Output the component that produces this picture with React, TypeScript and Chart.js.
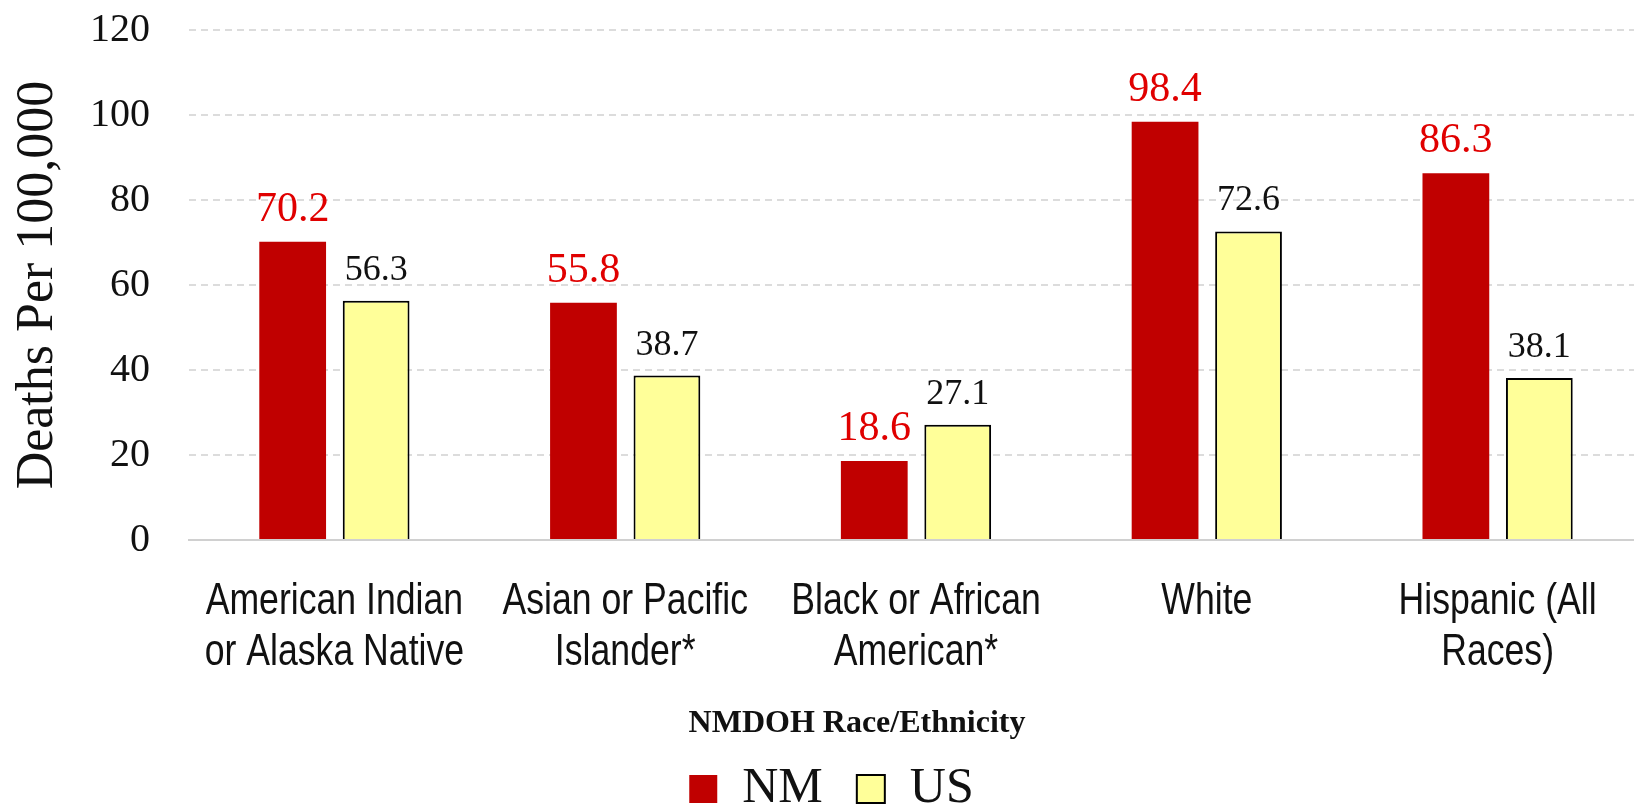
import React, { useEffect, useRef } from "react";
import { Chart, registerables } from "chart.js";

Chart.register(...registerables);

const categories: string[][] = [
  ["American Indian", "or Alaska Native"],
  ["Asian or Pacific", "Islander*"],
  ["Black or African", "American*"],
  ["White"],
  ["Hispanic (All", "Races)"],
];
const nmValues = [70.2, 55.8, 18.6, 98.4, 86.3];
const usValues = [56.3, 38.7, 27.1, 72.6, 38.1];
const seriesNames = ["NM", "US"];
const yTicks = [0, 20, 40, 60, 80, 100, 120];
const yTitle = "Deaths Per 100,000";
const xTitle = "NMDOH Race/Ethnicity";

const SERIF = '"Liberation Serif", "Times New Roman", serif';
const SANS = '"Liberation Sans", Arial, sans-serif';

const CANVAS_W = 1644;
const CANVAS_H = 824;
const PAD_LEFT = 20;

const labelPlugin = {
  id: "barValueLabels",
  afterDatasetsDraw(chart: any) {
    const ctx = chart.ctx;
    ctx.save();
    chart.data.datasets.forEach((ds: any, di: number) => {
      const meta = chart.getDatasetMeta(di);
      ctx.font = di === 0 ? `42px ${SERIF}` : `36px ${SERIF}`;
      ctx.fillStyle = di === 0 ? "#E00000" : "#111111";
      ctx.textAlign = "center";
      ctx.textBaseline = "alphabetic";
      meta.data.forEach((el: any, i: number) => {
        ctx.fillText(ds.data[i].toFixed(1), el.x, el.y - 21);
      });
    });
    ctx.restore();
  },
};

// category labels drawn in a narrow (horizontally condensed) sans face
const xLabelPlugin = {
  id: "xCategoryLabels",
  afterDraw(chart: any) {
    const ctx = chart.ctx;
    const xs = chart.scales.x;
    const base = chart.chartArea.bottom;
    ctx.save();
    ctx.font = `44px ${SANS}`;
    ctx.fillStyle = "#111111";
    ctx.textAlign = "center";
    ctx.textBaseline = "alphabetic";
    categories.forEach((lines, i) => {
      const cx = xs.getPixelForTick(i);
      lines.forEach((line, li) => {
        ctx.save();
        ctx.translate(cx, base + 74 + li * 51);
        ctx.scale(0.81, 1);
        ctx.fillText(line, 0, 0);
        ctx.restore();
      });
    });
    ctx.restore();
  },
};

const xTitlePlugin = {
  id: "xTitleText",
  afterDraw(chart: any) {
    const ctx = chart.ctx;
    ctx.save();
    ctx.font = `bold 32px ${SERIF}`;
    ctx.fillStyle = "#111111";
    ctx.textAlign = "center";
    ctx.textBaseline = "alphabetic";
    ctx.fillText(xTitle, 857, 732);
    ctx.restore();
  },
};

export default function App() {
  const ref = useRef<HTMLCanvasElement | null>(null);

  useEffect(() => {
    if (!ref.current) return;
    const chart = new Chart(ref.current, {
      type: "bar",
      data: {
        labels: categories.map((l) => l.join(" ")),
        datasets: [
          {
            label: seriesNames[0],
            data: nmValues,
            backgroundColor: "#C00000",
            borderWidth: 0,
            categoryPercentage: 0.574,
            barPercentage: 0.8,
          },
          {
            label: seriesNames[1],
            data: usValues,
            backgroundColor: "#FFFF99",
            borderColor: "#000000",
            borderWidth: 2,
            categoryPercentage: 0.574,
            barPercentage: 0.8,
          },
        ],
      },
      plugins: [labelPlugin, xLabelPlugin, xTitlePlugin],
      options: {
        responsive: false,
        animation: false,
        devicePixelRatio: 1,
        layout: { padding: { top: 30, right: 1, left: PAD_LEFT, bottom: 0 } },
        plugins: {
          tooltip: { enabled: false },
          title: { display: false },
          legend: {
            display: true,
            position: "bottom",
            labels: {
              boxWidth: 28,
              boxHeight: 28,
              padding: 34,
              color: "#111111",
              font: { family: SERIF, size: 50 },
            },
          },
        },
        scales: {
          x: {
            grid: { display: false },
            border: { display: true, color: "#d0d0d0", width: 2 },
            ticks: { display: false },
            afterFit: (scale: any) => {
              scale.height = 190;
            },
          },
          y: {
            min: 0,
            max: 120,
            afterBuildTicks: (scale: any) => {
              scale.ticks = yTicks.map((v) => ({ value: v }));
            },
            grid: {
              drawTicks: false,
              lineWidth: 2,
              color: (c: any) => (c.tick && c.tick.value === 0 ? "rgba(0,0,0,0)" : "#dcdcdc"),
            },
            border: { display: false, dash: [7, 5] },
            ticks: {
              color: "#111111",
              padding: 39,
              font: { family: SERIF, size: 40 },
            },
            title: {
              display: true,
              text: yTitle,
              color: "#111111",
              padding: { top: 7 - PAD_LEFT, bottom: 0 },
              font: { family: SERIF, size: 52 },
            },
            afterFit: (scale: any) => {
              scale.width = 189 - PAD_LEFT;
              scale.paddingTop = 24;
              scale.paddingBottom = 24;
            },
          },
        },
      },
    });
    return () => chart.destroy();
  }, []);

  return (
    <div
      style={{
        position: "fixed",
        left: 0,
        top: 0,
        width: 1634,
        height: 809,
        overflow: "hidden",
        background: "#ffffff",
      }}
    >
      <canvas
        ref={ref}
        width={CANVAS_W}
        height={CANVAS_H}
        style={{ display: "block", width: CANVAS_W, height: CANVAS_H }}
      />
    </div>
  );
}
